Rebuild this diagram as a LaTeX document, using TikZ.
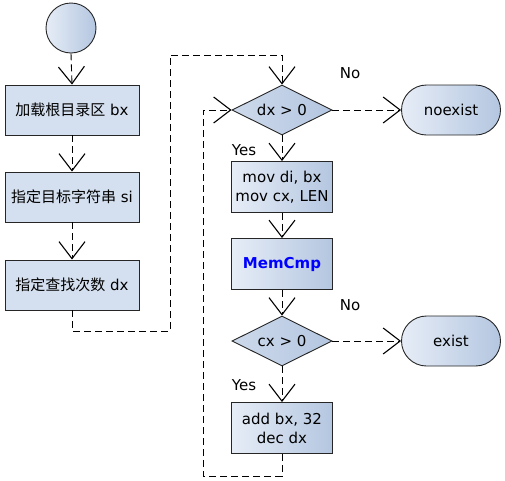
\documentclass[tikz,border=0pt]{standalone}
\usepackage{fontspec}
\setmainfont{DejaVu Sans}
\newfontfamily\cjk{Noto Sans CJK SC}
\usetikzlibrary{arrows.meta,shapes.geometric,shapes.misc}
\definecolor{fl}{HTML}{E6EDF7}
\definecolor{fr}{HTML}{B4C6E0}
\definecolor{fb}{HTML}{D4DFEF}
\tikzset{
  x=1pt,y=-1pt,
  every node/.style={font=\fontsize{15}{19}\selectfont},
  boxa/.style={draw=black!85,line width=0.9pt,fill=fb,minimum width=134pt,minimum height=50pt,inner sep=0pt},
  boxb/.style={draw=black!85,line width=0.9pt,left color=fl,right color=fr,minimum width=101pt,minimum height=51pt,inner sep=0pt,align=center},
  dia/.style={draw=black!85,line width=0.9pt,left color=fl!50!fr,right color=fr,diamond,aspect=2,minimum width=100pt,minimum height=50pt,inner sep=0pt},
  term/.style={draw=black!85,line width=0.9pt,left color=fl,right color=fr,rounded rectangle,minimum width=99pt,minimum height=50pt,inner sep=0pt},
  flow/.style={draw=black,line width=0.9pt,dashed,dash pattern=on 7pt off 4pt,-{Straight Barb[length=17pt,width=26pt,line width=1.1pt]}},
  lbl/.style={font=\fontsize{15}{19}\selectfont}
}
\begin{document}
\begin{tikzpicture}
\useasboundingbox (0,0) rectangle (505,480);
\node[circle,draw=black!85,line width=0.9pt,left color=fl,right color=fr,minimum size=50pt,inner sep=0pt] (start) at (71,28) {};
\node[boxa] (b1) at (72,110) {{\cjk 加载根目录区} bx};
\node[boxa] (b2) at (72,197) {{\cjk 指定目标字符串} si};
\node[boxa] (b3) at (72,285) {{\cjk 指定查找次数} dx};
\node[dia] (d1) at (282,110) {dx > 0};
\node[term] (ne) at (451,110) {noexist};
\node[boxb] (m1) at (282,187) {mov di, bx\\mov cx, LEN};
\node[boxb] (mc) at (282,264) {\textcolor{blue}{\bfseries MemCmp}};
\node[dia] (d2) at (282,341) {cx > 0};
\node[term] (ex) at (451,341) {exist};
\node[boxb] (ad) at (282,428) {add bx, 32\\dec dx};
\node[lbl] at (350,73) {No};
\node[lbl] at (350,305) {No};
\node[lbl] at (244,150) {Yes};
\node[lbl] at (244,385) {Yes};
\coordinate (c1) at (72,331);
\coordinate (c2) at (170,331);
\coordinate (c3) at (170,55);
\coordinate (c4) at (282,55);
\coordinate (c5) at (282,476);
\coordinate (c6) at (203,476);
\coordinate (c7) at (203,110);
\draw[flow] (start.south) -- (b1.north);
\draw[flow] (b1) -- (b2);
\draw[flow] (b2) -- (b3);
\draw[flow] (b3.south) -- (c1) -- (c2) -- (c3) -- (c4) -- (d1.north);
\draw[flow] (d1) -- (ne);
\draw[flow] (d1) -- (m1);
\draw[flow] (m1) -- (mc);
\draw[flow] (mc) -- (d2);
\draw[flow] (d2) -- (ex);
\draw[flow] (d2) -- (ad);
\draw[flow] (ad.south) -- (c5) -- (c6) -- (c7) -- (d1.west);
\end{tikzpicture}
\end{document}
